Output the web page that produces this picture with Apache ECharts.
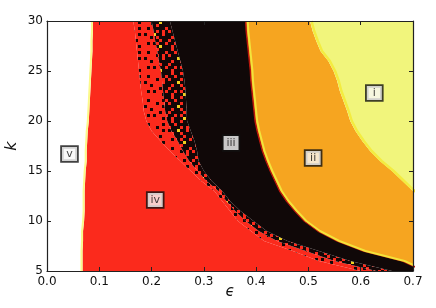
<!DOCTYPE html>
<html><head><meta charset="utf-8">
<script src="https://cdn.jsdelivr.net/npm/echarts@6/dist/echarts.min.js"></script>
<style>html,body{margin:0;padding:0;background:#fff}#c{width:436px;height:308px}</style>
</head><body><div id="c"></div>
<script>
const kRows = [5,6,7,8,9,10,11,12,13,14,15,16,17,18,19,20,21,22,23,24,25,26,27,28,29,30];
// boundary v | iv
const bV_IV = [0.068,0.068,0.068,0.069,0.069,0.071,0.072,0.072,0.072,0.073,0.074,0.076,0.076,0.077,0.078,0.080,0.081,0.082,0.083,0.084,0.085,0.086,0.087,0.087,0.088,0.088];
// end of solid red (start of sparse speckles)
const bIV_mix = [0.600,0.520,0.470,0.415,0.390,0.365,0.350,0.335,0.320,0.295,0.275,0.255,0.235,0.217,0.200,0.190,0.185,0.183,0.180,0.178,0.176,0.174,0.172,0.170,0.168,0.165];
// sparse -> dense speckles
const bMixMid = [0.630,0.550,0.495,0.440,0.405,0.380,0.360,0.343,0.328,0.305,0.288,0.272,0.260,0.250,0.238,0.230,0.226,0.224,0.222,0.220,0.218,0.214,0.211,0.207,0.204,0.200];
// start of solid black iii
const bMix_III = [0.660,0.580,0.520,0.460,0.420,0.395,0.370,0.350,0.335,0.315,0.300,0.290,0.287,0.282,0.275,0.268,0.267,0.266,0.265,0.263,0.260,0.255,0.250,0.245,0.240,0.235];
// boundary iii | ii
const bIII_II = [0.720,0.680,0.605,0.555,0.518,0.492,0.474,0.458,0.445,0.436,0.427,0.419,0.412,0.407,0.402,0.398,0.396,0.394,0.392,0.390,0.389,0.387,0.385,0.383,0.381,0.380];
// boundary ii | i
const bII_I = [0.760,0.760,0.760,0.760,0.760,0.760,0.760,0.740,0.700,0.680,0.660,0.637,0.618,0.603,0.590,0.580,0.574,0.567,0.560,0.555,0.548,0.538,0.523,0.515,0.508,0.503];
const epsMin = 0, epsMax = 0.7;

const regionNames = ['v','iv','mixA','mixB','iii','ii','i'];
const leftEdges  = [kRows.map(()=>epsMin), bV_IV, bIV_mix, bMixMid, bMix_III, bIII_II, bII_I];
const rightEdges = [bV_IV, bIV_mix, bMixMid, bMix_III, bIII_II, bII_I, kRows.map(()=>epsMax)];

const labelText = ['i','ii','iii','iv','v'];
const labelEps  = [0.626,0.509,0.352,0.207,0.043];
const labelK    = [22.8,16.3,17.8,12.1,16.7];

// speckle textures (fixed tiles) for the mixed red/black zone
function tile(mask, bg, fg){
  const n = mask.length, s = 3;
  const c = document.createElement('canvas'); c.width = n*s; c.height = n*s;
  const g = c.getContext('2d');
  g.fillStyle = bg; g.fillRect(0,0,n*s,n*s);
  for (let r=0;r<n;r++) for (let q=0;q<n;q++) {
    const ch = mask[r][q];
    if (ch === '.') continue;
    g.fillStyle = ch === 'y' ? '#f0d020' : fg;
    g.fillRect(q*s,r*s,s,s);
  }
  return c;
}
const sparseMask = [
  '........','.#....#.','....#...','#.....#.','..#.....','.....#..','.#.#....','......#.'];
const denseMask = [
  '#.##.###','##.####.','.###.#.#','###y##.#','#.##.###','.####.##','##.#.##.','#.###y##'];
const regionFill = {
  v: '#ffffff', iv: '#fb2a1c',
  mixA: {image: tile(sparseMask, '#fb2a1c', '#140707'), repeat: 'repeat'},
  mixB: {image: tile(denseMask, '#fb2a1c', '#140707'), repeat: 'repeat'},
  iii: '#100808', ii: '#f6a520', i: '#f1f57c'
};

const chart = echarts.init(document.getElementById('c'), null, {renderer:'canvas'});
const font = 'DejaVu Sans';
const axisCommon = {
  z: 10,
  axisLine: {show: true, onZero: false, lineStyle: {color: '#222', width: 1.2}},
  axisTick: {show: true, inside: true, length: 4, lineStyle: {color: '#222'}},
  splitLine: {show: false}
};

chart.setOption({
  animation: false,
  backgroundColor: '#fff',
  grid: {left: 47, right: 23, top: 21, bottom: 37, show: false, containLabel: false, outerBoundsMode: 'none'},
  xAxis: [
    Object.assign({type:'value', min: epsMin, max: epsMax, interval: 0.1, position: 'bottom',
      name: 'ϵ', nameLocation: 'middle', nameGap: 14, nameMoveOverlap: false,
      nameTextStyle: {fontFamily: font, fontSize: 15, fontStyle: 'italic', color: '#111'},
      axisLabel: {fontFamily: font, fontSize: 12, color: '#111', margin: 5, formatter: v => v.toFixed(1)}}, axisCommon),
    Object.assign({type:'value', min: epsMin, max: epsMax, interval: 0.1, position: 'top', axisLabel: {show: false}}, axisCommon)
  ],
  yAxis: [
    Object.assign({type:'value', min: 5, max: 30, interval: 5, position: 'left',
      name: 'k', nameLocation: 'middle', nameGap: 27, nameRotate: 90, nameMoveOverlap: false,
      nameTextStyle: {fontFamily: font, fontSize: 16, fontStyle: 'italic', color: '#111'},
      axisLabel: {fontFamily: font, fontSize: 12, color: '#111', margin: 4}}, axisCommon),
    Object.assign({type:'value', min: 5, max: 30, interval: 5, position: 'right', axisLabel: {show: false}}, axisCommon)
  ],
  series: [
    {
      type: 'custom', clip: true, z: 1,
      data: regionNames.map((n,i)=>[i]),
      renderItem: function(params, api){
        const i = params.dataIndex;
        const L = leftEdges[i], R = rightEdges[i];
        const pts = [];
        for (let j=0;j<kRows.length;j++) pts.push(api.coord([L[j], kRows[j]]));
        for (let j=kRows.length-1;j>=0;j--) pts.push(api.coord([R[j], kRows[j]]));
        return {type:'polygon', shape:{points: pts}, style:{fill: regionFill[regionNames[i]], stroke: null}};
      }
    },
    {type:'line', z: 2, clip: true, showSymbol: false, silent: true,
      data: kRows.map((k,j)=>[bV_IV[j]-0.002, k]), lineStyle: {color: '#fbf98a', width: 2}},
    {type:'line', z: 2, clip: true, showSymbol: false, silent: true,
      data: kRows.map((k,j)=>[bIII_II[j], k]), lineStyle: {color: '#b8160c', width: 1.5}},
    {type:'line', z: 2, clip: true, showSymbol: false, silent: true,
      data: kRows.map((k,j)=>[bIII_II[j]+0.004, k]), lineStyle: {color: '#f3e43a', width: 2}},
    {type:'line', z: 2, clip: true, showSymbol: false, silent: true,
      data: kRows.map((k,j)=>[bII_I[j]+0.003, k]), lineStyle: {color: '#f3ec40', width: 2.5}},
    {
      type: 'scatter', z: 20, symbolSize: 0, itemStyle: {color: 'rgba(0,0,0,0)'},
      data: labelText.map((t,i)=>[labelEps[i], labelK[i], t]),
      label: {show: true, position: 'inside', formatter: p => p.value[2],
        fontFamily: font, fontSize: 11, color: '#111',
        backgroundColor: '#f7f7f7', borderColor: '#111', borderWidth: 1.8,
        width: 15, height: 13, lineHeight: 13, align: 'center', verticalAlign: 'middle', padding: [1,0,0,0]}
    }
  ]
});
</script></body></html>
